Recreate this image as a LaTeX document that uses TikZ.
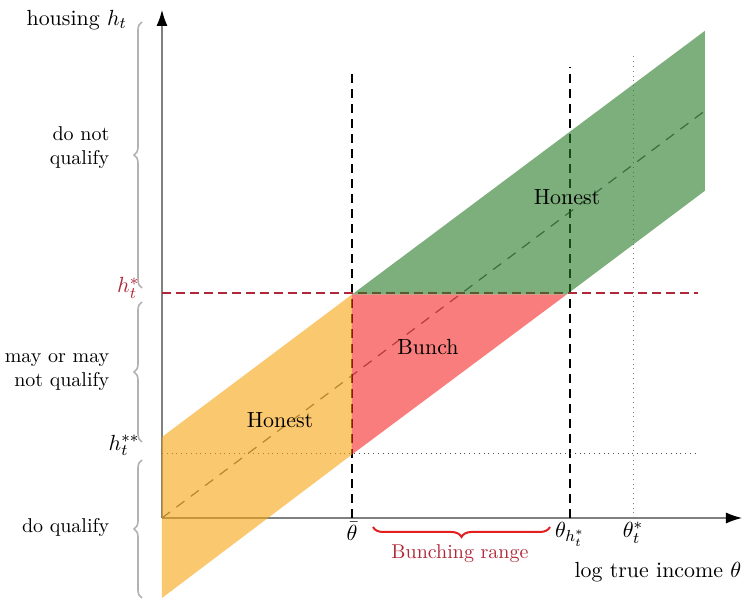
\documentclass[11pt,tikz,border=0pt]{standalone}
\usetikzlibrary{arrows.meta,decorations.pathreplacing}

\definecolor{honestlow}{RGB}{247,163,13}
\definecolor{bunchred}{RGB}{247,38,38}
\definecolor{honesthigh}{RGB}{38,122,38}
\definecolor{hstarred}{RGB}{176,40,56}
\definecolor{rangered}{RGB}{226,30,30}

\begin{document}
\begin{tikzpicture}[
  x=25pt, y=25pt,
  axis/.style={draw=gray, semithick, -{Latex[black,length=8pt,width=5.5pt]}},
  cutline/.style={line width=1.1pt, dash pattern=on 4.5pt off 3pt},
  region/.style={fill opacity=0.6, draw=none},
  sidebrace/.style={draw=gray!60, thick, decorate, decoration={brace, amplitude=4pt}},
  sidelabel/.style={font=\small, align=right, anchor=east},
  ticklabel/.style={anchor=north, inner sep=2pt}
]
\useasboundingbox (-3.24,-1.64) rectangle (11.8,10.36);

% key points of the band
\coordinate (O) at (0,0);
\coordinate (Ytop) at (0,10.16);
\coordinate (Xend) at (11.6,0);
\coordinate (Lo0) at (0,-1.6);
\coordinate (Up0) at (0,1.62);
\coordinate (Bh) at (3.8,4.47);
\coordinate (Bl) at (3.8,1.27);
\coordinate (Th) at (8.093,4.47);
\coordinate (UpE) at (10.86,9.745);
\coordinate (LoE) at (10.86,6.545);
\coordinate (MidE) at (10.86,8.145);

\coordinate (BarTop) at (3.8,8.96);
\coordinate (BarBot) at (3.8,0);
\coordinate (ThTop) at (8.16,9.02);
\coordinate (ThBot) at (8.16,0);
\coordinate (StTop) at (9.42,9.26);
\coordinate (StBot) at (9.42,0);
\coordinate (HsL) at (0,4.5);
\coordinate (HsR) at (10.72,4.5);
\coordinate (HssL) at (0,1.3);
\coordinate (HssR) at (10.72,1.3);

% axes and guide lines
\draw[axis] (O) -- (Ytop);
\draw[axis] (O) -- (Xend);
\draw[black!65, semithick, dash pattern=on 5pt off 4pt] (O) -- (MidE);
\draw[cutline] (BarBot) -- (BarTop);
\draw[cutline] (ThBot) -- (ThTop);
\draw[gray, dotted] (StBot) -- (StTop);
\draw[hstarred, thick, dash pattern=on 4.5pt off 2.5pt] (HsL) -- (HsR);
\draw[black!70, dotted] (HssL) -- (HssR);

% regions
\fill[region, honestlow] (Lo0) -- (Up0) -- (Bh) -- (Bl) -- cycle;
\fill[region, bunchred] (Bl) -- (Bh) -- (Th) -- cycle;
\fill[region, honesthigh] (Bh) -- (UpE) -- (LoE) -- (Th) -- cycle;

\node (hon1) at (2.36,1.96) {Honest};
\node (bunch) at (5.32,3.42) {Bunch};
\node (hon2) at (8.1,6.42) {Honest};

% axis labels
\node[anchor=east] (ylab) at (-0.55,9.96) {housing $h_t$};
\node[anchor=east, text=hstarred] (hs) at (-0.3,4.6) {$h_t^*$};
\node[anchor=east] (hss) at (-0.3,1.45) {$h_t^{**}$};
\node[ticklabel] (tbar) at (BarBot) {$\bar{\theta}$};
\node[ticklabel] (tth) at (ThBot) {$\theta_{h_t^*}$};
\node[ticklabel] (tst) at (StBot) {$\theta_t^*$};
\node[anchor=east] (xlab) at (11.74,-1.08) {log true income $\theta$};

% side braces
\draw[sidebrace] (-0.4,4.6) -- (-0.4,9.92);
\draw[sidebrace] (-0.4,1.52) -- (-0.4,4.32);
\draw[sidebrace] (-0.4,-1.6) -- (-0.4,1.16);
\node[sidelabel] (dnq) at (-0.9,7.4) {do not\\qualify};
\node[sidelabel] (mq) at (-0.9,2.92) {may or may\\not qualify};
\node[sidelabel] (dq) at (-0.9,-0.2) {do qualify};

% bunching range
\draw[rangered, semithick, line width=1pt, decorate, decoration={brace, mirror, amplitude=5pt}] (4.22,-0.18) -- (7.76,-0.18);
\node[font=\small, text=hstarred] (brange) at (5.96,-0.72) {Bunching range};
\end{tikzpicture}
\end{document}
